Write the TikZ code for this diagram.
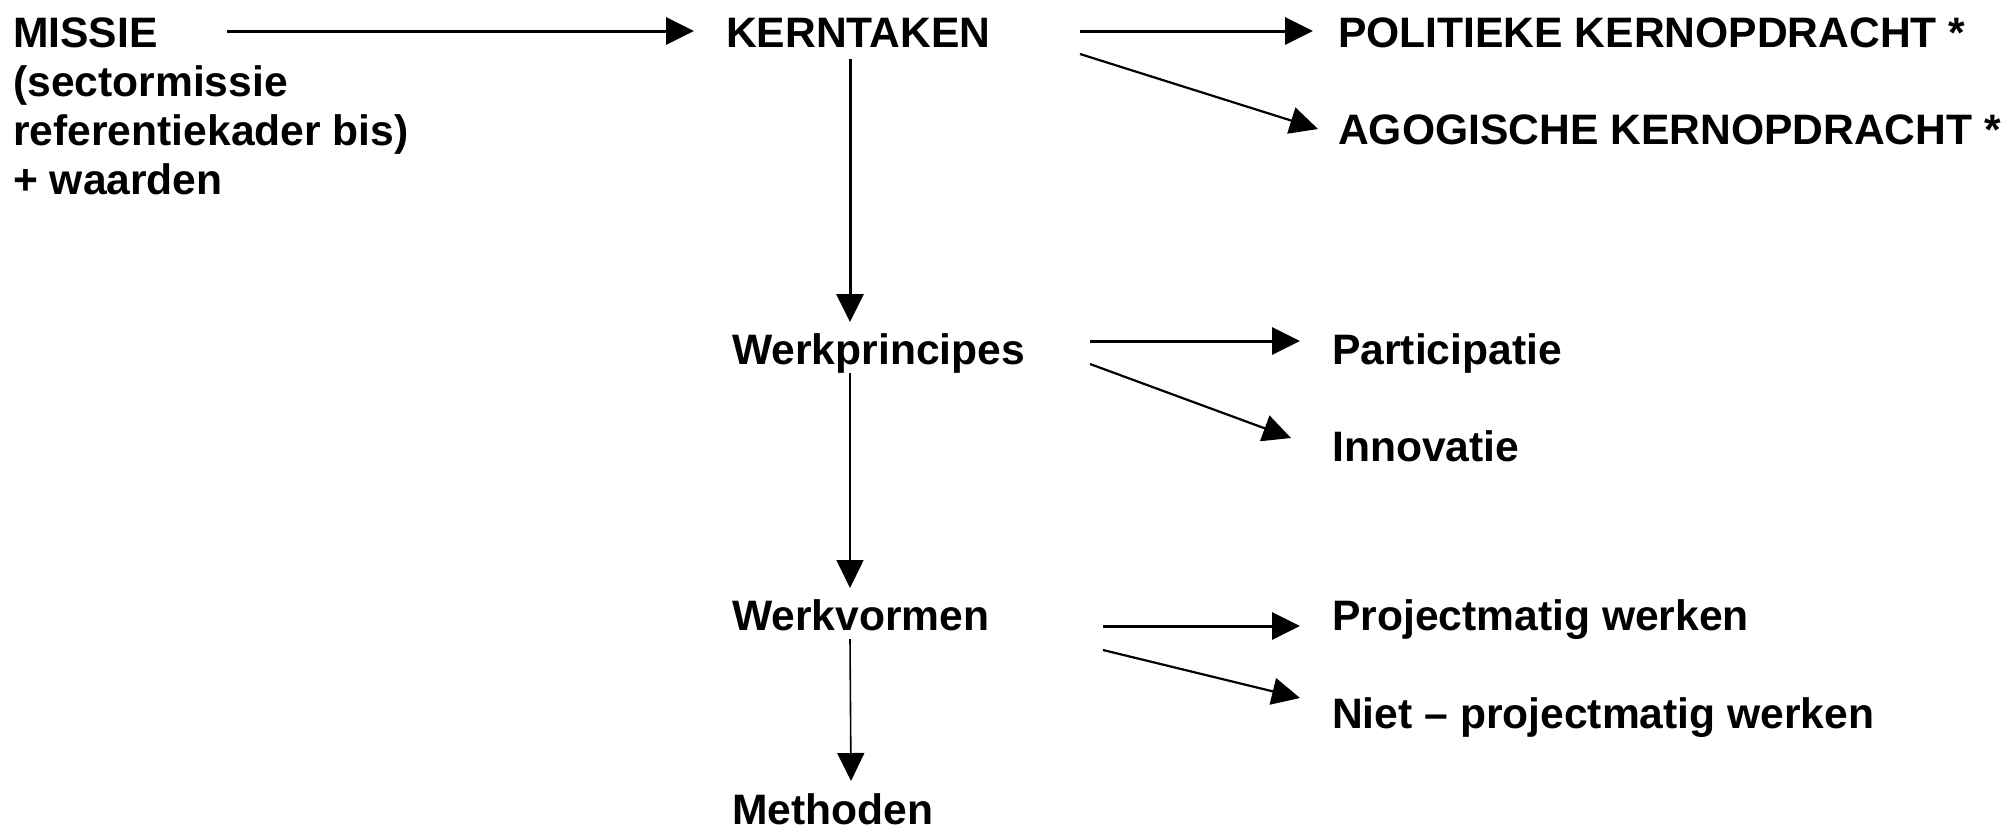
\documentclass[tikz,border=0pt]{standalone}
\usepackage{fontspec}
\setmainfont{Liberation Sans}
\usetikzlibrary{arrows.meta}
\begin{document}
\begin{tikzpicture}[x=1pt,y=-1pt,
  lbl/.style={anchor=base west,inner sep=0pt,align=left,font=\fontsize{42.6}{49}\selectfont\bfseries},
  arr/.style={-{Triangle[length=28pt,width=27pt]},line width=3pt},
  darr/.style={-{Triangle[length=28pt,width=27pt]},line width=2.2pt},
  tarr/.style={-{Triangle[length=28pt,width=27pt]},line width=1.6pt}]
\useasboundingbox (0,0) rectangle (2004,830);
\node[lbl] (missie) at (13,194) {MISSIE\\(sectormissie\\referentiekader bis)\\+ waarden};
\node[lbl] (kern) at (726,47) {KERNTAKEN};
\node[lbl] (pol) at (1338,47) {POLITIEKE KERNOPDRACHT *};
\node[lbl] (ago) at (1338,144) {AGOGISCHE KERNOPDRACHT *};
\node[lbl] (wp) at (732,364) {Werkprincipes};
\node[lbl] (part) at (1332,364) {Participatie};
\node[lbl] (inno) at (1332,461) {Innovatie};
\node[lbl] (wv) at (732,630) {Werkvormen};
\node[lbl] (proj) at (1332,630) {Projectmatig werken};
\node[lbl] (niet) at (1332,728) {Niet -- projectmatig werken};
\node[lbl] (meth) at (732,824) {Methoden};
% connector end points
\coordinate (m1) at (227,31);  \coordinate (k1) at (694,31);
\coordinate (k2) at (1080,31); \coordinate (p1) at (1313,31);
\coordinate (k3) at (1080,54); \coordinate (a1) at (1318,129);
\coordinate (k4) at (850,59);  \coordinate (w1) at (850,322);
\coordinate (w2) at (1090,341); \coordinate (pa) at (1300,341);
\coordinate (w3) at (1090,364); \coordinate (in) at (1291,438);
\coordinate (w4) at (850,373); \coordinate (v1) at (850,588);
\coordinate (v2) at (1103,626); \coordinate (pr) at (1300,626);
\coordinate (v3) at (1103,650); \coordinate (ni) at (1300,698);
\coordinate (v4) at (850,639); \coordinate (me) at (851,781);
\draw[arr] (m1) -- (k1);
\draw[arr] (k2) -- (p1);
\draw[darr] (k3) -- (a1);
\draw[arr] (k4) -- (w1);
\draw[arr] (w2) -- (pa);
\draw[darr] (w3) -- (in);
\draw[tarr] (w4) -- (v1);
\draw[arr] (v2) -- (pr);
\draw[darr] (v3) -- (ni);
\draw[tarr] (v4) -- (me);
\end{tikzpicture}
\end{document}
